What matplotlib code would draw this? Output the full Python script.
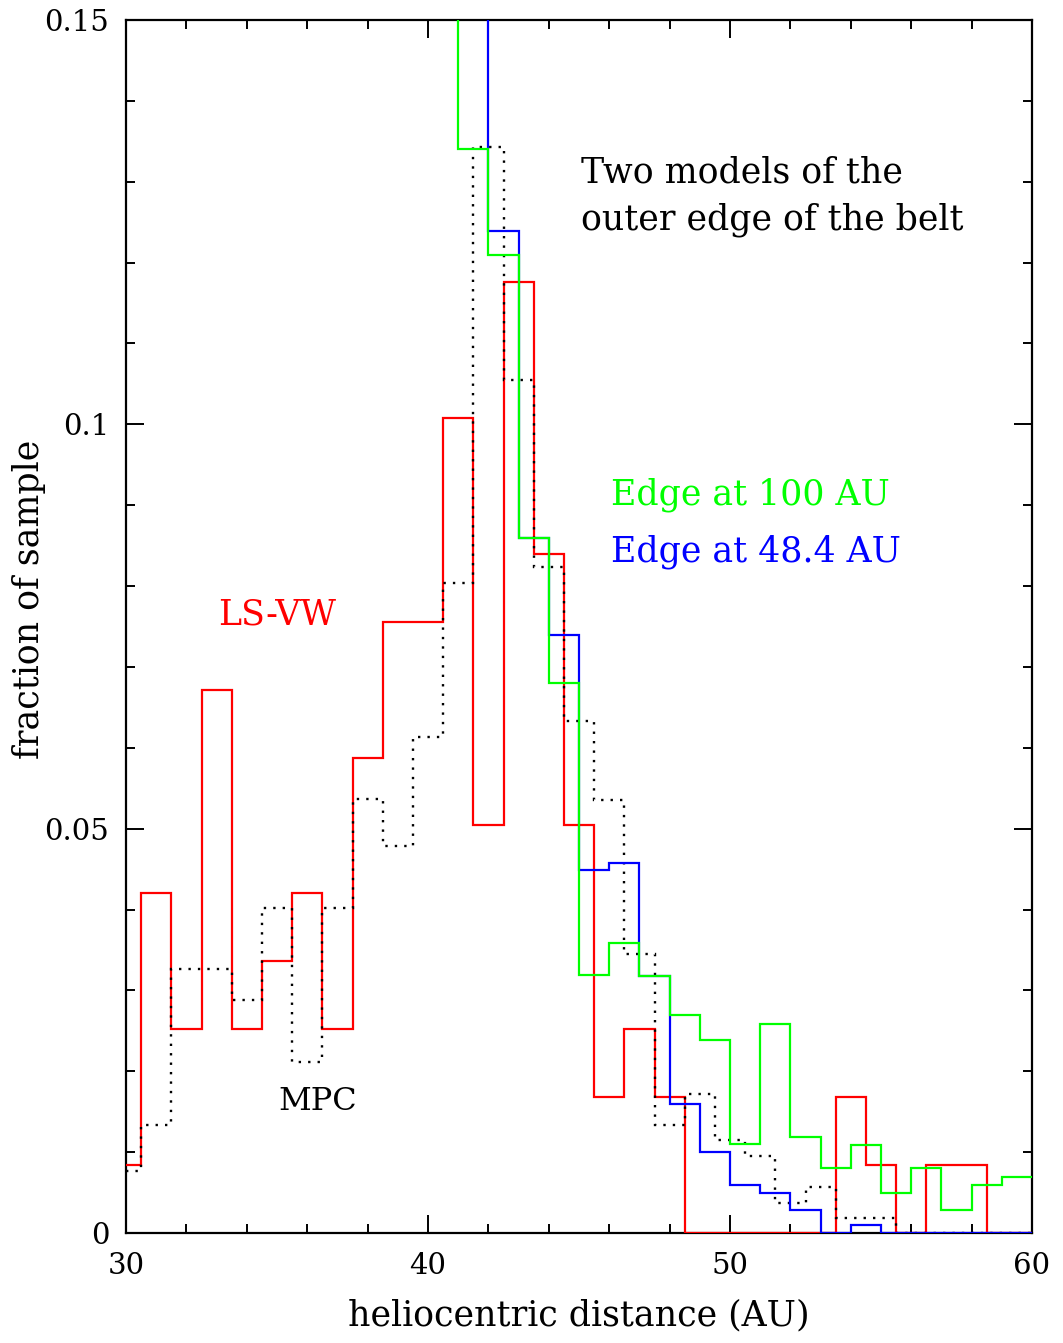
import matplotlib
matplotlib.use('Agg')
import matplotlib.pyplot as plt
from matplotlib.ticker import MultipleLocator, FixedFormatter, FixedLocator
import numpy as np

# observed samples, bins on half-integer AU (first/last bins cut at 30 and 60)
obs_edges = [30.0] + [30.5 + i for i in range(30)] + [60.0]
ls_vw = [0.0084, 0.0421, 0.0252, 0.0672, 0.0252, 0.0336, 0.0421, 0.0252,
         0.0588, 0.0756, 0.0756, 0.1008, 0.0504, 0.1176, 0.0840, 0.0504,
         0.0168, 0.0252, 0.0168, 0.0, 0.0, 0.0, 0.0, 0.0,
         0.0168, 0.0084, 0.0, 0.0084, 0.0084, 0.0, 0.0]
mpc = [0.0077, 0.0133, 0.0326, 0.0326, 0.0288, 0.0402, 0.0211, 0.0402,
       0.0537, 0.0478, 0.0613, 0.0804, 0.1343, 0.1055, 0.0824, 0.0633,
       0.0536, 0.0345, 0.0133, 0.0172, 0.0115, 0.0095, 0.0037, 0.0057,
       0.0019, 0.0019, 0.0, 0.0, 0.0, 0.0, 0.0]

# model histograms, integer AU bins; first bin is off the top of the plot
edge100_edges = list(range(40, 61))
edge100 = [0.20, 0.134, 0.121, 0.0859, 0.068, 0.0319, 0.0358, 0.0318,
           0.0269, 0.0239, 0.011, 0.0259, 0.0119, 0.008, 0.0109, 0.0049,
           0.008, 0.0029, 0.0059, 0.0069]
edge48_edges = list(range(41, 61))
edge48 = [0.20, 0.1239, 0.0859, 0.0739, 0.0449, 0.0458, 0.0318, 0.0159,
          0.010, 0.0059, 0.0049, 0.0029, 0.0, 0.001, 0.0, 0.0, 0.0, 0.0, 0.0]

xticks = [30, 40, 50, 60]
xtick_labels = ['30', '40', '50', '60']
yticks = [0, 0.05, 0.1, 0.15]
ytick_labels = ['0', '0.05', '0.1', '0.15']

plt.rcParams['font.family'] = ['DejaVu Serif']

fig = plt.figure(figsize=(10.63, 13.43), dpi=100)
ax = fig.add_axes([126/1063, 1 - 1233/1343, 906/1063, 1213/1343])

# drawn above the frame so the zero-level runs show along the bottom axis
ax.stairs(ls_vw, obs_edges, baseline=None, color='#ff0000', lw=1.6, zorder=3)
ax.stairs(mpc, obs_edges, baseline=None, color='black', lw=1.7,
          linestyle=(0, (1, 3.0)), zorder=4)
ax.stairs(edge48, edge48_edges, baseline=None, color='#0000ff', lw=1.6, zorder=5)
ax.stairs(edge100, edge100_edges, baseline=None, color='#00ff00', lw=1.6, zorder=6)

ax.set_xlim(30, 60)
ax.set_ylim(0, 0.15)

ax.xaxis.set_major_locator(FixedLocator(xticks))
ax.xaxis.set_major_formatter(FixedFormatter(xtick_labels))
ax.xaxis.set_minor_locator(MultipleLocator(2))
ax.yaxis.set_major_locator(FixedLocator(yticks))
ax.yaxis.set_major_formatter(FixedFormatter(ytick_labels))
ax.yaxis.set_minor_locator(MultipleLocator(0.01))

ax.tick_params(which='both', direction='in', top=True, right=True, width=1.4,
               labelsize=21)
ax.tick_params(axis='x', pad=14)
ax.tick_params(axis='y', pad=12)
ax.tick_params(which='major', length=13)
ax.tick_params(which='minor', length=6.5)
for s in ax.spines.values():
    s.set_linewidth(1.6)

ax.set_xlabel('heliocentric distance (AU)', fontsize=25)
ax.set_ylabel('fraction of sample', fontsize=25)
ax.xaxis.set_label_coords(0.5, -0.054)
ax.yaxis.set_label_coords(-0.088, 0.522)

ax.text(45.07, 0.1312, 'Two models of the', fontsize=25, va='center')
ax.text(45.07, 0.1253, 'outer edge of the belt', fontsize=25, va='center')
ax.text(46.06, 0.0913, 'Edge at 100 AU', fontsize=25, color='#00ff00', va='center')
ax.text(46.06, 0.0843, 'Edge at 48.4 AU', fontsize=25, color='#0000ff', va='center')
ax.text(33.05, 0.0765, 'LS-VW', fontsize=25, color='#ff0000', va='center')
ax.text(35.03, 0.0163, 'MPC', fontsize=23, va='center')

fig.savefig('out.png', dpi=100)
